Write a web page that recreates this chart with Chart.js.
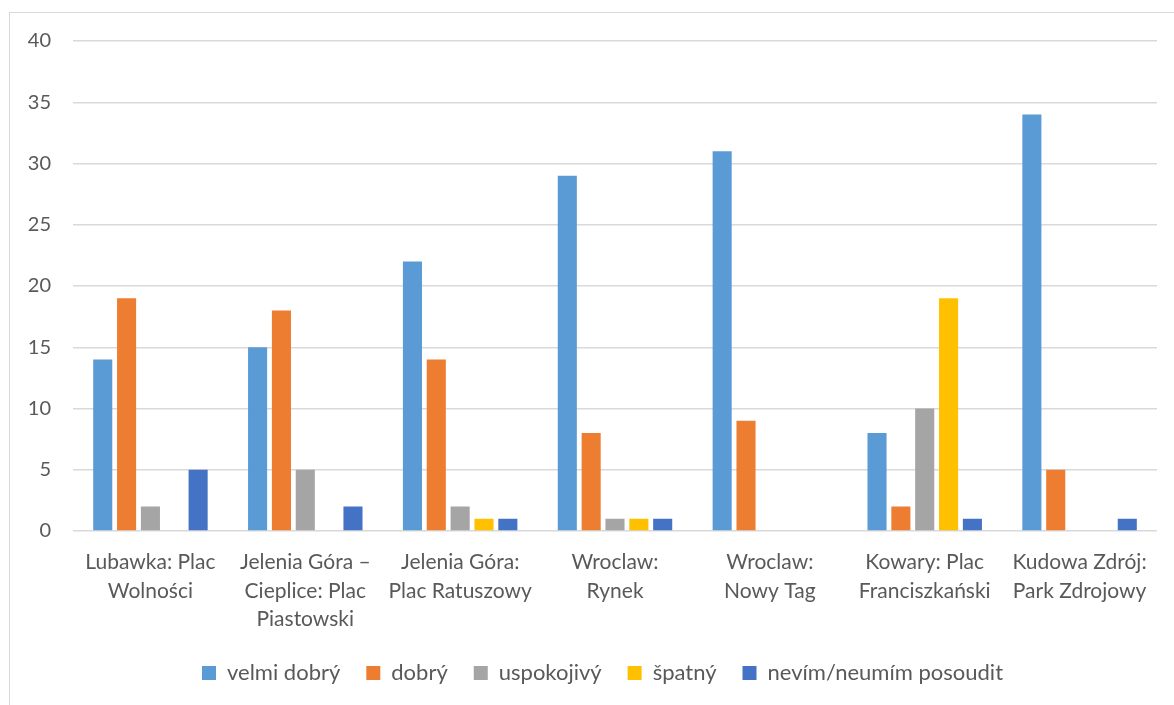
<!DOCTYPE html>
<html>
<head>
<meta charset="utf-8">
<script src="https://cdn.jsdelivr.net/npm/chart.js@4"></script>
<style>
  html, body { margin: 0; padding: 0; background: #fff; overflow: hidden; }
  #wrap { position: relative; width: 1174px; height: 705px; }
  #frame { position: absolute; left: 9px; top: 12px; width: 1200px; height: 720px; border: 1.5px solid #d9d9d9; box-sizing: border-box; }
  canvas { position: absolute; left: 0; top: 0; }
</style>
</head>
<body>
<div id="wrap">
  <div id="frame"></div>
  <canvas id="myChart" width="1174" height="705"></canvas>
</div>
<script>
const places = [
  ['Lubawka: Plac', 'Wolności'],
  ['Jelenia Góra –', 'Cieplice: Plac', 'Piastowski'],
  ['Jelenia Góra:', 'Plac Ratuszowy'],
  ['Wroclaw:', 'Rynek'],
  ['Wroclaw:', 'Nowy Tag'],
  ['Kowary: Plac', 'Franciszkański'],
  ['Kudowa Zdrój:', 'Park Zdrojowy']
];
const velmiDobry = [14, 15, 22, 29, 31, 8, 34];
const dobry = [19, 18, 14, 8, 9, 2, 5];
const uspokojivy = [2, 5, 2, 1, 0, 10, 0];
const spatny = [0, 0, 1, 1, 0, 19, 0];
const nevim = [5, 2, 1, 1, 0, 1, 1];
const yTicks = [0, 5, 10, 15, 20, 25, 30, 35, 40];

const textColor = '#595959';
const family = 'Lato, "Open Sans", sans-serif';

const ctx = document.getElementById('myChart').getContext('2d');

// the original legend is centred under the plot, not under the whole canvas
const legendShift = {
  id: 'legendShift',
  afterLayout(chart) {
    chart.legend.left += 48;
  }
};

const data = {
  labels: places,
  datasets: [
    { label: 'velmi dobrý', backgroundColor: '#5B9BD5', data: velmiDobry },
    { label: 'dobrý', backgroundColor: '#ED7D31', data: dobry },
    { label: 'uspokojivý', backgroundColor: '#A5A5A5', data: uspokojivy },
    { label: 'špatný', backgroundColor: '#FFC000', data: spatny },
    { label: 'nevím/neumím posoudit', backgroundColor: '#4472C4', data: nevim }
  ]
};

const config = {
  type: 'bar',
  data: data,
  plugins: [legendShift],
  options: {
    responsive: false,
    animation: false,
    categoryPercentage: 0.77,
    barPercentage: 0.8,
    layout: { padding: { left: 0, right: 17, top: 41, bottom: 11 } },
    plugins: {
      tooltip: { enabled: false },
      legend: {
        position: 'bottom',
        labels: {
          color: textColor,
          font: { family: family, size: 22 },
          boxWidth: 14,
          boxHeight: 14,
          padding: 26
        }
      }
    },
    scales: {
      x: {
        grid: { display: false },
        border: { display: false },
        ticks: {
          color: textColor,
          font: { family: family, size: 21, lineHeight: 1.357 },
          maxRotation: 0,
          autoSkip: false,
          padding: 9
        },
        afterFit: (s) => { s.height = 105; }
      },
      y: {
        min: 0,
        max: 40,
        afterBuildTicks: (s) => { s.ticks = yTicks.map(v => ({ value: v })); },
        grid: { color: '#d9d9d9', lineWidth: 1.5, drawTicks: false },
        border: { display: false },
        ticks: { color: textColor, font: { family: family, size: 20 }, padding: 22 },
        afterFit: (s) => { s.width = 73; }
      }
    }
  }
};

new Chart(ctx, config);
</script>
</body>
</html>
